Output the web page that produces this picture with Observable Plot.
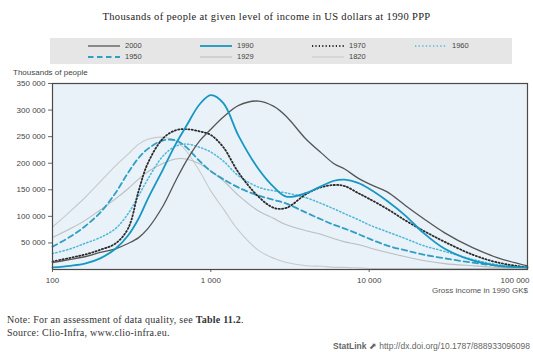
<!DOCTYPE html>
<html>
<head>
<meta charset="utf-8">
<script src="https://cdn.jsdelivr.net/npm/d3@7"></script>
<script src="https://cdn.jsdelivr.net/npm/@observablehq/plot@0.6"></script>
<style>
  html, body { margin: 0; padding: 0; background: #fff; }
  #wrap { position: relative; width: 533px; height: 352px; overflow: hidden; font-family: "Liberation Sans", Arial, sans-serif; color: #333; }
  .abs { position: absolute; white-space: nowrap; }
  #title { left: 0; width: 533px; top: 11px; text-align: center; font-family: "Liberation Serif", serif; font-size: 10.5px; letter-spacing: 0.35px; color: #222; }
  #legend { left: 50px; top: 38px; width: 462px; height: 26px; background: #e6e6e6; }
  .item { position: absolute; font-size: 7.5px; color: #444; line-height: 9px; }
  .item svg { vertical-align: middle; margin-right: 5px; }
  #ylab { left: 13px; top: 68px; font-size: 8px; color: #444; }
  #xlab { right: 5px; top: 286px; font-size: 8px; color: #555; }
  #note { left: 7px; top: 313px; font-family: "Liberation Serif", serif; font-size: 10px; letter-spacing: 0.25px; color: #333; line-height: 13px; }
  #statlink { right: 3px; top: 341px; font-size: 8.5px; color: #666; }
  #chart { left: 0; top: 66px; }
</style>
</head>
<body>
<div id="wrap">
  <div id="title" class="abs">Thousands of people at given level of income in US dollars at 1990 PPP</div>
  <div id="legend" class="abs"></div>
  <div id="ylab" class="abs">Thousands of people</div>
  <div id="chart" class="abs"></div>
  <div id="xlab" class="abs">Gross income in 1990 GK$</div>
  <div id="note" class="abs">Note: For an assessment of data quality, see <b>Table 11.2</b>.<br>Source: Clio-Infra, www.clio-infra.eu.</div>
  <div id="statlink" class="abs"><b>StatLink</b> &#x2B08; http://dx.doi.org/10.1787/888933096098</div>
</div>
<script>
// Income grid (1990 GK$), shared by all series
const incomes = [100, 130, 160, 200, 250, 300, 350, 400, 500, 600, 700, 850, 1000, 1200, 1500, 2000, 2500, 3000, 4000, 5000, 6000, 7000, 8500, 10000, 13000, 17000, 22000, 30000, 45000, 65000, 100000];

// Thousands of people at each income level
const v2000 = [13, 19, 24, 32, 39, 49, 60, 77, 120, 167, 204, 242, 264, 287, 309, 317, 307, 288, 245, 219, 199, 189, 172, 161, 146, 120, 96, 69, 41, 22, 7];
const v1990 = [4, 7, 11, 21, 39, 64, 96, 133, 189, 236, 270, 311, 328, 313, 251, 189, 155, 137, 144, 157, 167, 169, 163, 152, 129, 101, 69, 39, 17, 7, 4];
const v1970 = [15, 22, 28, 37, 49, 77, 148, 200, 247, 262, 264, 260, 253, 230, 182, 137, 116, 116, 142, 155, 159, 157, 144, 133, 114, 92, 73, 52, 28, 13, 4];
const v1960 = [30, 39, 49, 60, 77, 105, 139, 170, 214, 232, 236, 230, 221, 204, 176, 155, 148, 144, 135, 124, 114, 105, 94, 84, 71, 58, 45, 34, 19, 9, 4];
const v1950 = [43, 62, 81, 107, 144, 182, 210, 227, 243, 243, 230, 204, 185, 170, 154, 139, 131, 124, 107, 94, 84, 77, 67, 58, 45, 36, 28, 21, 13, 7, 4];
const v1929 = [60, 77, 92, 112, 133, 152, 170, 184, 200, 208, 208, 199, 185, 167, 139, 110, 96, 84, 73, 66, 58, 52, 47, 41, 32, 24, 17, 11, 7, 4, 2];
const v1820 = [80, 110, 135, 165, 195, 217, 236, 245, 249, 242, 223, 185, 148, 114, 73, 36, 21, 13, 7, 6, 4, 4, 3, 2, 2, 2, 2, 2, 2, 2, 2];

const years = ["2000", "1990", "1970", "1960", "1950", "1929", "1820"];
const seriesValues = [v2000, v1990, v1970, v1960, v1950, v1929, v1820];

const yTicks = [50000, 100000, 150000, 200000, 250000, 300000, 350000];
const xTicks = [100, 1000, 10000];
const xTickLast = [100000];

const styles = {
  "2000": {stroke: "#555555", strokeWidth: 1.3, dash: null},
  "1990": {stroke: "#1797c2", strokeWidth: 1.8, dash: null},
  "1970": {stroke: "#2b2b2b", strokeWidth: 1.8, dash: "1.2 2.2"},
  "1960": {stroke: "#4fb8d6", strokeWidth: 1.5, dash: "1.3 2.3"},
  "1950": {stroke: "#2f9fc3", strokeWidth: 1.8, dash: "5.5 3.5"},
  "1929": {stroke: "#b9bfbf", strokeWidth: 1.1, dash: null},
  "1820": {stroke: "#c9c9c9", strokeWidth: 1.1, dash: null}
};

const fmt = d => d3.format(",")(d).replace(/,/g, " ");

const rows = years.map((y, k) => incomes.map((inc, i) => ({year: y, income: inc, value: seriesValues[k][i] * 1000})));
const drawOrder = ["1820", "1929", "1950", "1960", "1970", "2000", "1990"];

const lineMarks = drawOrder.map(y => {
  const s = styles[y];
  return Plot.line(rows[years.indexOf(y)], {
    x: "income", y: "value", curve: "catmull-rom",
    stroke: s.stroke, strokeWidth: s.strokeWidth, strokeDasharray: s.dash || undefined
  });
});

const chart = Plot.plot({
  width: 533, height: 232,
  marginTop: 17, marginBottom: 29, marginLeft: 52, marginRight: 6,
  style: {fontFamily: "Liberation Sans, Arial, sans-serif", fontSize: "8px", color: "#444", background: "transparent"},
  x: {type: "log", domain: [100, 100000]},
  y: {domain: [0, 350000]},
  marks: [
    Plot.frame({fill: "#e9f2f9"}),
    Plot.axisY({ticks: yTicks, tickFormat: fmt, tickSize: 4, tickPadding: 3, label: null, stroke: "#666"}),
    Plot.axisX({ticks: xTicks, tickFormat: fmt, tickSize: 3, tickPadding: 5, label: null, stroke: "#666"}),
    Plot.axisX({ticks: xTickLast, tickFormat: fmt, tickSize: 0, tickPadding: 8, textAnchor: "end", dx: 2, label: null}),
    ...lineMarks,
    Plot.frame({stroke: "#4a4a4a", strokeWidth: 1.2})
  ]
});
document.getElementById("chart").appendChild(chart);

// Legend (HTML)
const legend = document.getElementById("legend");
const legendPos = [
  ["2000", 38, 3], ["1990", 150, 3], ["1970", 262, 3], ["1960", 365, 3],
  ["1950", 38, 14], ["1929", 150, 14], ["1820", 262, 14]
];
legendPos.forEach(([y, left, top]) => {
  const s = styles[y];
  const div = document.createElement("div");
  div.className = "item";
  div.style.left = left + "px";
  div.style.top = top + "px";
  const dash = s.dash ? ` stroke-dasharray="${s.dash}"` : "";
  div.innerHTML = `<svg width="32" height="6"><line x1="0" y1="3" x2="32" y2="3" stroke="${s.stroke}" stroke-width="${s.strokeWidth}"${dash}/></svg>${y}`;
  legend.appendChild(div);
});
</script>
</body>
</html>
